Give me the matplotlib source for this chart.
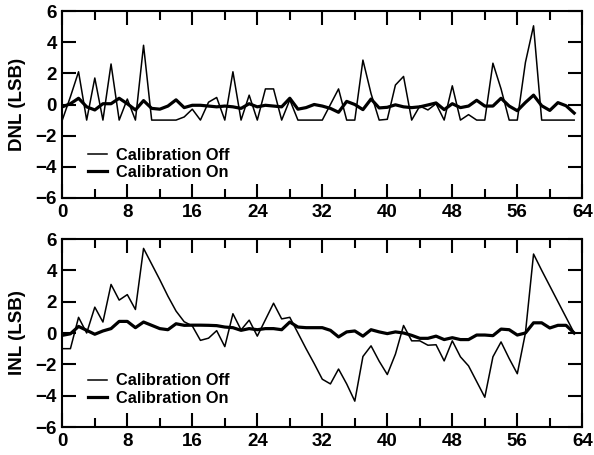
import numpy as np
import matplotlib
matplotlib.use('Agg')
import matplotlib.pyplot as plt

plt.rcParams['font.family'] = ['Liberation Sans', 'DejaVu Sans']
plt.rcParams['font.weight'] = 'bold'

codes = np.arange(64)

dnl_off = [-1, 0.5, 2.1, -1, 1.7, -1, 2.6, -1, 0.35, -1,
           3.8, -1, -1, -1, -1, -0.8, -0.3, -1, 0.15, 0.45,
           -1, 2.1, -1, 0.6, -1, 1.0, 1.0, -1, 0.3, -1,
           -1, -1, -1, 0, 1.0, -1, -1, 2.85, 0.7, -1,
           -0.95, 1.25, 1.8, -1, -0.1, -0.35, 0.05, -1, 1.2, -1,
           -0.65, -1, -1, 2.65, 1.0, -1, -1, 2.7, 5.05, -1,
           -1, -1, -1, -1]
dnl_on = [-0.15, 0.05, 0.4, -0.15, -0.35, 0.05, 0.05, 0.4, 0.05, -0.35,
          0.25, -0.25, -0.3, -0.1, 0.3, -0.2, -0.05, -0.05, -0.1, -0.15,
          -0.1, -0.15, -0.25, 0.05, -0.15, -0.05, -0.1, -0.15, 0.4, -0.3,
          -0.2, 0, -0.1, -0.25, -0.5, 0.2, 0, -0.33, 0.35, -0.22,
          -0.18, -0.02, -0.15, -0.2, -0.15, -0.03, 0.1, -0.33, 0.05, -0.2,
          -0.1, 0.27, -0.1, -0.1, 0.4, -0.1, -0.4, 0.13, 0.6, -0.08,
          -0.38, 0.12, -0.08, -0.55]

inl_off = [-1.0, -1.0, 1.0, 0.0, 1.65, 0.7, 3.1, 2.1, 2.45, 1.5,
           5.4, 4.4, 3.4, 2.35, 1.4, 0.72, 0.45, -0.47, -0.33, 0.15,
           -0.87, 1.23, 0.2, 0.82, -0.2, 0.85, 1.9, 0.9, 1.0, 0.0,
           -1.0, -1.95, -2.95, -3.25, -2.3, -3.25, -4.35, -1.5, -0.82, -1.8,
           -2.65, -1.35, 0.48, -0.5, -0.5, -0.78, -0.75, -1.78, -0.5, -1.52,
           -2.1, -3.1, -4.1, -1.52, -0.57, -1.63, -2.6, 0.0, 5.04, 4.0,
           3.0, 2.0, 1.0, 0.0]
inl_on = [-0.15, -0.05, 0.42, 0.17, -0.08, 0.13, 0.28, 0.74, 0.74, 0.34,
          0.7, 0.49, 0.28, 0.21, 0.59, 0.49, 0.5, 0.5, 0.49, 0.47,
          0.38, 0.34, 0.17, 0.28, 0.21, 0.28, 0.28, 0.21, 0.7, 0.38,
          0.34, 0.34, 0.34, 0.17, -0.25, 0.07, 0.13, -0.2, 0.21, 0.07,
          -0.04, 0.07, 0.0, -0.15, -0.34, -0.34, -0.2, -0.42, -0.3, -0.42,
          -0.42, -0.13, -0.13, -0.17, 0.25, 0.21, -0.13, 0.0, 0.65, 0.65,
          0.32, 0.49, 0.49, 0.0]

xticks = [0, 8, 16, 24, 32, 40, 48, 56, 64]
yticks = [-6, -4, -2, 0, 2, 4, 6]

W, H = 594, 455
fig = plt.figure(figsize=(W / 100, H / 100), dpi=100)
ax1 = fig.add_axes([62.3 / W, 1 - 198 / H, 520 / W, 187 / H])
ax2 = fig.add_axes([62.3 / W, 1 - 427 / H, 520 / W, 188 / H])


def style_axis(ax, off, on, label, leg_y):
    ax.plot(codes, off, color='k', linewidth=1.1, label='Calibration Off')
    ax.plot(codes, on, color='k', linewidth=2.3, label='Calibration On')
    ax.set_xlim(0, 64)
    ax.set_ylim(-6, 6)
    ax.set_xticks(xticks)
    ax.set_xticks(range(4, 64, 8), minor=True)
    ax.set_yticks(yticks)
    ax.tick_params(which='both', direction='in', top=True, right=True,
                   labelsize=13.5, width=1.5, pad=4)
    ax.tick_params(which='major', length=10)
    ax.tick_params(which='minor', length=6.5)
    for lbl in ax.get_xticklabels() + ax.get_yticklabels():
        lbl.set_fontweight('bold')
    for s in ax.spines.values():
        s.set_linewidth(1.5)
    ax.set_ylabel(label, fontsize=13.5, fontweight='bold')
    ax.yaxis.set_label_coords(-0.07, 0.5)
    ax.legend(loc='upper left', bbox_to_anchor=(0.049, leg_y), frameon=False,
              handlelength=1.2, handletextpad=0.5,
              labelspacing=0.15, borderpad=0, borderaxespad=0,
              prop={'weight': 'bold', 'size': 11.8})


style_axis(ax1, dnl_off, dnl_on, 'DNL (LSB)', 0.27)
style_axis(ax2, inl_off, inl_on, 'INL (LSB)', 0.285)

fig.savefig('out.png', dpi=100)
